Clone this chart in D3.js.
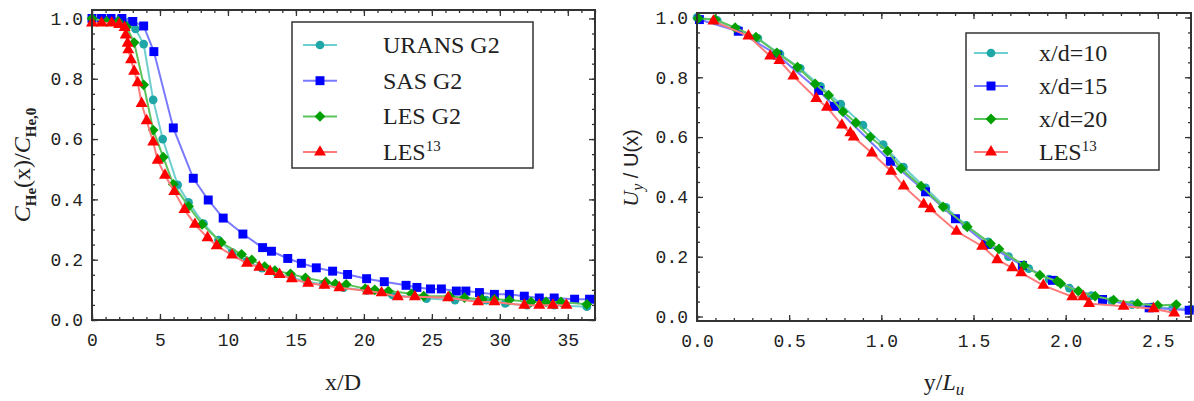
<!DOCTYPE html>
<html>
<head>
<meta charset="utf-8">
<script src="https://cdn.jsdelivr.net/npm/d3@7"></script>
<style>
body { margin: 0; background: #fff; }
svg text { fill: #222; }
.tick text { font-family: "Liberation Mono", monospace; font-size: 18px; fill: #222; }
.tick line { stroke: #333; stroke-width: 1.3; }
.serif { font-family: "Liberation Serif", "Times New Roman", serif; }
</style>
</head>
<body>
<div id="chart"></div>
<script>
// ---- left panel: centreline helium concentration ----
var uransG2 = [[0,1.0],[0.7,1.0],[1.4,1.0],[2.1,1.0],[2.8,0.99],[3.2,0.965],[3.8,0.915],[4.5,0.73],[5.2,0.60],[6.3,0.448],[7.1,0.39],
    [8.2,0.32],[9.3,0.265],[10.3,0.224],[11.4,0.195],[12.5,0.172],[13.6,0.155],[14.7,0.14],[15.8,0.128],[17.0,0.118],[18.5,0.107],
    [20.2,0.098],[22.1,0.083],[24.6,0.071],[26.7,0.066],[29.0,0.066],[30.4,0.055],[32.0,0.049],[34.0,0.049],[36.4,0.044]];
var sasG2 = [[0,1.0],[0.7,1.0],[1.4,1.0],[2.2,1.0],[3.0,0.99],[3.8,0.975],[4.55,0.89],[5.98,0.637],[7.45,0.47],[8.55,0.398],
    [9.65,0.338],[11.1,0.285],[12.55,0.24],[13.2,0.228],[14.4,0.204],[15.4,0.188],[16.5,0.173],[17.7,0.162],[18.8,0.151],
    [20.2,0.137],[21.5,0.127],[23.1,0.115],[23.9,0.108],[24.9,0.103],[25.7,0.103],[26.8,0.096],[27.5,0.096],[28.5,0.091],
    [29.6,0.085],[30.7,0.085],[31.8,0.079],[32.9,0.073],[34.0,0.073],[35.5,0.069],[36.6,0.069]];
var lesG2 = [[0,1.0],[1.08,0.99],[1.93,0.99],[2.55,0.972],[3.1,0.92],[3.8,0.78],[4.5,0.63],[5.24,0.54],[5.98,0.45],[7.1,0.377],
    [8.1,0.317],[9.5,0.257],[11.0,0.218],[11.75,0.199],[12.7,0.177],[13.45,0.164],[14.6,0.153],[15.7,0.14],[17.2,0.126],
    [17.9,0.12],[18.7,0.118],[20.1,0.104],[20.8,0.10],[21.8,0.096],[23.5,0.087],[24.4,0.079],[26.3,0.079],[27.4,0.074],
    [28.7,0.069],[29.6,0.069],[30.7,0.066],[32.3,0.06],[33.4,0.06],[34.5,0.06],[36.4,0.052]];
var les13Left = [[0,0.985],[0.7,0.985],[1.45,0.985],[2.0,0.98],[2.4,0.97],[2.48,0.945],[2.62,0.918],[2.67,0.896],[2.87,0.863],
    [3.1,0.825],[3.36,0.787],[3.65,0.718],[4.02,0.661],[4.5,0.59],[4.83,0.53],[5.37,0.48],[6.05,0.426],[6.8,0.366],[7.57,0.317],
    [8.5,0.273],[9.17,0.246],[10.3,0.215],[11.4,0.188],[12.3,0.175],[13.1,0.161],[13.8,0.151],[14.7,0.137],[15.9,0.122],
    [17.1,0.115],[18.2,0.107],[20.3,0.096],[21.3,0.09],[22.5,0.077],[23.75,0.077],[26.2,0.074],[28.4,0.06],[29.6,0.06],
    [31.8,0.049],[32.9,0.049],[33.9,0.049],[34.9,0.049]];

// ---- right panel: radial velocity profiles ----
var xd10 = [[0,1.0],[0.11,0.99],[0.22,0.96],[0.33,0.93],[0.45,0.878],[0.56,0.83],[0.67,0.77],[0.78,0.71],[0.9,0.64],[1.01,0.575],
    [1.12,0.5],[1.24,0.43],[1.35,0.365],[1.46,0.305],[1.58,0.25],[1.69,0.2],[1.8,0.16],[1.91,0.125],[2.02,0.095],[2.14,0.07],
    [2.25,0.052],[2.36,0.04],[2.47,0.032],[2.58,0.028],[2.68,0.025]];
var xd15 = [[0.013,0.993],[0.224,0.954],[0.437,0.874],[0.66,0.756],[0.745,0.703],[1.049,0.519],[1.24,0.417],[1.402,0.327],
    [1.574,0.241],[1.765,0.171],[1.928,0.121],[2.2,0.057],[2.453,0.029],[2.67,0.021]];
var xd20 = [[0.007,0.997],[0.098,0.993],[0.207,0.966],[0.32,0.934],[0.433,0.882],[0.545,0.834],[0.641,0.778],[0.714,0.74],
    [0.792,0.685],[0.862,0.648],[0.94,0.60],[1.034,0.553],[1.107,0.495],[1.216,0.436],[1.335,0.367],[1.466,0.30],[1.592,0.244],
    [1.638,0.226],[1.774,0.171],[1.86,0.138],[1.955,0.118],[1.973,0.11],[2.069,0.085],[2.16,0.068],[2.26,0.055],[2.39,0.043],
    [2.5,0.037],[2.6,0.04]];
var les13Right = [[0.089,0.988],[0.279,0.938],[0.397,0.871],[0.447,0.856],[0.523,0.804],[0.647,0.729],[0.705,0.70],[0.786,0.64],
    [0.832,0.614],[0.85,0.60],[0.949,0.547],[1.054,0.486],[1.121,0.436],[1.23,0.375],[1.266,0.36],[1.408,0.285],[1.547,0.235],
    [1.629,0.19],[1.71,0.163],[1.759,0.146],[1.879,0.104],[2.036,0.066],[2.096,0.066],[2.127,0.043],[2.314,0.034],[2.477,0.026],
    [2.589,0.012]];

var leftNames = ["URANS G2", "SAS G2", "LES G2", "LES"];
var rightNames = ["x/d=10", "x/d=15", "x/d=20", "LES"];

// marker colour, line colour, symbol (diamond = square turned 45deg)
var styles = [
    {mark: "#1fa6a6", line: "#6fcfcf", sym: d3.symbolCircle, size: 60, rot: 0},
    {mark: "#0000ff", line: "#7a7aff", sym: d3.symbolSquare, size: 80, rot: 0},
    {mark: "#00a000", line: "#5cc45c", sym: d3.symbolSquare, size: 58, rot: 45},
    {mark: "#ff0000", line: "#ff7a7a", sym: d3.symbolTriangle, size: 62, rot: 0}
];

var svg = d3.select("#chart").append("svg")
    .attr("width", 1194)
    .attr("height", 401);

function drawPanel(left, top, w, h, xDom, yDom, xMaj, xMin, yMaj, yMin, xFmt, series) {
    var g = svg.append("g").attr("transform", `translate(${left},${top})`);
    var x = d3.scaleLinear().domain(xDom).range([0, w]);
    var y = d3.scaleLinear().domain(yDom).range([h, 0]);
    var noDomain = s => s.select(".domain").remove();

    // ticks point inward on all four sides
    g.append("g").attr("transform", `translate(0,${h})`)
        .call(d3.axisBottom(x).tickValues(xMin).tickSize(-3).tickFormat("")).call(noDomain);
    g.append("g").attr("transform", `translate(0,${h})`)
        .call(d3.axisBottom(x).tickValues(xMaj).tickSize(-6).tickPadding(13).tickFormat(xFmt)).call(noDomain);
    g.append("g")
        .call(d3.axisTop(x).tickValues(xMin).tickSize(-3).tickFormat("")).call(noDomain);
    g.append("g")
        .call(d3.axisTop(x).tickValues(xMaj).tickSize(-6).tickFormat("")).call(noDomain);
    g.append("g")
        .call(d3.axisLeft(y).tickValues(yMin).tickSize(-3).tickFormat("")).call(noDomain);
    g.append("g")
        .call(d3.axisLeft(y).tickValues(yMaj).tickSize(-6).tickPadding(9).tickFormat(d3.format(".1f"))).call(noDomain);
    g.append("g").attr("transform", `translate(${w},0)`)
        .call(d3.axisRight(y).tickValues(yMin).tickSize(-3).tickFormat("")).call(noDomain);
    g.append("g").attr("transform", `translate(${w},0)`)
        .call(d3.axisRight(y).tickValues(yMaj).tickSize(-6).tickFormat("")).call(noDomain);

    var line = d3.line().x(d => x(d[0])).y(d => y(d[1]));
    series.forEach((s, i) => {
        g.append("path").datum(s)
            .attr("d", line)
            .attr("fill", "none")
            .attr("stroke", styles[i].line)
            .attr("stroke-width", 2);
        g.selectAll(null).data(s).enter()
            .append("path")
            .attr("transform", d => `translate(${x(d[0])},${y(d[1])}) rotate(${styles[i].rot})`)
            .attr("d", d3.symbol().type(styles[i].sym).size(styles[i].size))
            .attr("fill", styles[i].mark);
    });

    g.append("rect")
        .attr("width", w).attr("height", h)
        .attr("fill", "none")
        .attr("stroke", "#333")
        .attr("stroke-width", 2);
    return g;
}

function legend(x0, y0, bw, bh, rows, names, symX, textX, gap, fontSize) {
    svg.append("rect")
        .attr("x", x0).attr("y", y0).attr("width", bw).attr("height", bh)
        .attr("fill", "#fff").attr("stroke", "#333").attr("stroke-width", 1.5);
    names.forEach((n, i) => {
        var cy = rows + i * gap;
        svg.append("line")
            .attr("x1", symX - 17).attr("x2", symX + 17)
            .attr("y1", cy).attr("y2", cy)
            .attr("stroke", styles[i].line).attr("stroke-width", 2);
        svg.append("path")
            .attr("transform", `translate(${symX},${cy}) rotate(${styles[i].rot})`)
            .attr("d", d3.symbol().type(styles[i].sym).size(styles[i].size))
            .attr("fill", styles[i].mark);
        var t = svg.append("text")
            .attr("class", "serif")
            .attr("x", textX).attr("y", cy + 8)
            .attr("font-size", fontSize)
            .text(n);
        if (i == 3) {
            t.append("tspan").attr("dy", -9).attr("font-size", 15).text("13");
        }
    });
}

drawPanel(92, 10, 503, 310, [0, 37], [0, 1.028],
    d3.range(0, 36, 5), d3.range(0, 38, 1), d3.range(0, 1.01, 0.2), d3.range(0, 1.03, 0.05),
    d3.format("d"), [uransG2, sasG2, lesG2, les13Left]);

drawPanel(697, 13, 494, 308, [0, 2.68], [-0.015, 1.015],
    [0, 0.5, 1.0, 1.5, 2.0, 2.5], d3.range(0, 2.68, 0.1), d3.range(0, 1.01, 0.2), d3.range(0, 1.01, 0.05),
    d3.format(".1f"), [xd10, xd15, xd20, les13Right]);

legend(292, 22, 241, 146, 45, leftNames, 320, 383, 35.7, 24);
legend(966, 33, 193, 137, 53, rightNames, 991, 1039, 33, 24);

// axis titles
svg.append("text").attr("class", "serif")
    .attr("x", 343).attr("y", 390)
    .attr("text-anchor", "middle").attr("font-size", 24)
    .text("x/D");

var xl = svg.append("text").attr("class", "serif")
    .attr("x", 944).attr("y", 390)
    .attr("text-anchor", "middle").attr("font-size", 24);
xl.append("tspan").text("y/");
xl.append("tspan").attr("font-style", "italic").text("L");
xl.append("tspan").attr("font-style", "italic").attr("font-size", 17).attr("dy", 5).text("u");

var yl = svg.append("text").attr("class", "serif")
    .attr("transform", "translate(30,165) rotate(-90)")
    .attr("text-anchor", "middle").attr("font-size", 24);
yl.append("tspan").attr("font-style", "italic").text("C");
yl.append("tspan").attr("font-size", 15).attr("font-weight", "bold").attr("dy", 6).text("He");
yl.append("tspan").attr("dy", -6).text("(x)/");
yl.append("tspan").attr("font-style", "italic").text("C");
yl.append("tspan").attr("font-size", 15).attr("font-weight", "bold").attr("dy", 6).text("He,0");

var yr = svg.append("text")
    .attr("transform", "translate(638,168) rotate(-90)")
    .attr("text-anchor", "middle").attr("font-size", 22);
yr.append("tspan").attr("class", "serif").attr("font-style", "italic").text("U");
yr.append("tspan").attr("class", "serif").attr("font-style", "italic").attr("font-size", 16).attr("dy", 5).text("y");
yr.append("tspan").attr("font-family", "Liberation Sans, sans-serif").attr("font-size", 20).attr("dy", -5).text(" / U(x)");
</script>
</body>
</html>
